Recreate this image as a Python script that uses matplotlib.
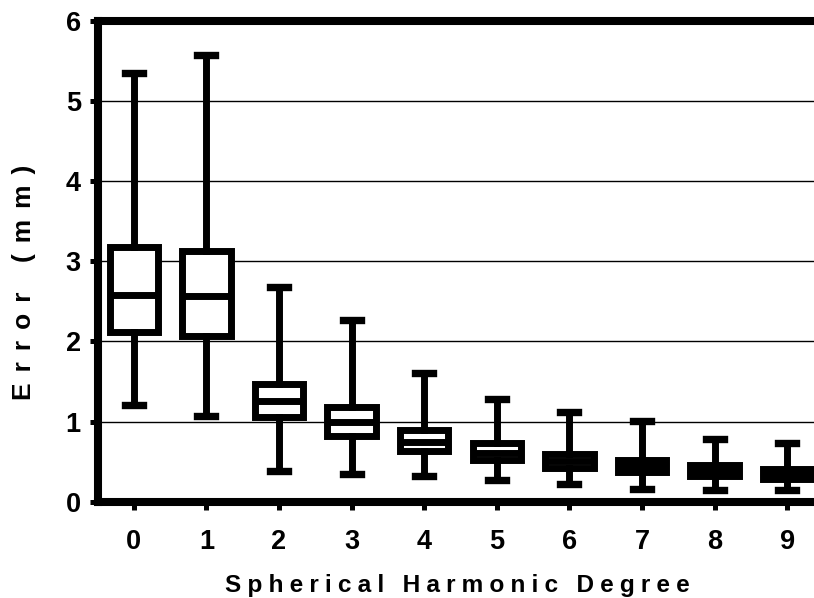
import numpy as np
import matplotlib
matplotlib.use("Agg")
import matplotlib.pyplot as plt

plt.rcParams['font.family'] = ['Liberation Sans', 'DejaVu Sans']
plt.rcParams['font.weight'] = 'bold'

# box statistics per harmonic degree (mm)
degrees = [0, 1, 2, 3, 4, 5, 6, 7, 8, 9]
whis_lo = [1.20, 1.07, 0.38, 0.35, 0.32, 0.27, 0.22, 0.16, 0.15, 0.15]
q1 = [2.11, 2.07, 1.06, 0.82, 0.63, 0.52, 0.42, 0.37, 0.32, 0.28]
med = [2.58, 2.57, 1.26, 0.99, 0.75, 0.61, 0.51, 0.445, 0.39, 0.35]
q3 = [3.17, 3.13, 1.47, 1.18, 0.90, 0.73, 0.60, 0.52, 0.46, 0.41]
whis_hi = [5.35, 5.57, 2.68, 2.27, 1.61, 1.28, 1.12, 1.01, 0.78, 0.73]

yticks = [0, 1, 2, 3, 4, 5, 6]

stats = []
for i in range(len(degrees)):
    stats.append(dict(med=med[i], q1=q1[i], q3=q3[i],
                      whislo=whis_lo[i], whishi=whis_hi[i], fliers=[]))

fig = plt.figure(figsize=(8.14, 5.98), dpi=100)
ax = fig.add_axes([0.1198, 0.161, 0.8919, 0.8047])

lw = 5.0
ax.bxp(stats, positions=degrees, widths=0.668, capwidths=0.25,
       patch_artist=True, showfliers=False, manage_ticks=False,
       boxprops=dict(facecolor='white', edgecolor='black', linewidth=lw),
       medianprops=dict(color='black', linewidth=lw),
       whiskerprops=dict(color='black', linewidth=lw),
       capprops=dict(color='black', linewidth=5.3))

ax.set_xlim(-0.5, 9.5)
ax.set_ylim(0, 6)
ax.set_xticks(degrees)
ax.set_yticks(yticks)
ax.yaxis.grid(True, color='black', linewidth=1.0)
ax.set_axisbelow(True)

for side in ['left', 'bottom', 'top']:
    ax.spines[side].set_linewidth(5.8)
ax.spines['right'].set_visible(False)

ax.tick_params(axis='both', direction='out', length=6, width=3.6,
               labelsize=19.5, color='black')
ax.tick_params(axis='x', pad=14)
ax.tick_params(axis='y', pad=6)
for lab in ax.get_xticklabels() + ax.get_yticklabels():
    lab.set_fontweight('bold')

# letter-spaced axis titles
sp = '\u2005'
xlab = (sp * 3).join(sp.join(w) for w in ['Spherical', 'Harmonic', 'Degree'])
fig.text(457 / 814, 6 / 598, xlab, ha='center', va='baseline',
         fontsize=17.6, fontweight='bold')

sp2 = '\u2004\u200a'
ylab = sp2.join('Error (mm)')
fig.text(31.5 / 814, 1 - 282 / 598, ylab, rotation=90, rotation_mode='anchor',
         ha='center', va='baseline', fontsize=19, fontweight='bold')

fig.savefig('out.png', dpi=100)
